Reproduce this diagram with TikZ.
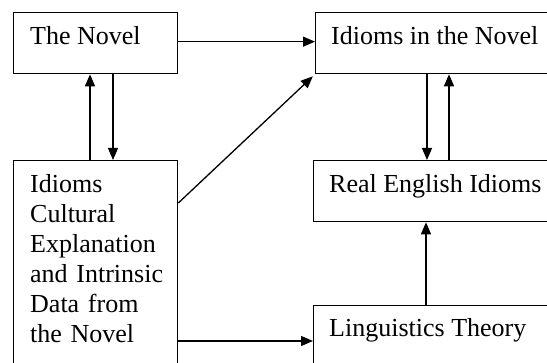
\documentclass[tikz,border=0pt]{standalone}
\usepackage{fontspec}
\setmainfont{Liberation Serif}
\usetikzlibrary{arrows.meta}
\begin{document}
\begin{tikzpicture}[x=1pt,y=-1pt,
  box/.style={draw, line width=1.3pt, inner sep=0pt, anchor=north west},
  lbl/.style={anchor=base west, inner sep=0pt, font=\fontsize{26}{30}\selectfont},
  arr/.style={line width=1.3pt, -{Triangle[length=12pt,width=10pt]}}]
\useasboundingbox (0,0) rectangle (547,363);
\clip (0,0) rectangle (547,363);
% boxes
\node[box, minimum width=164pt, minimum height=61pt] (novel) at (13,12) {};
\node[box, minimum width=164pt, minimum height=250pt] (idc) at (13,160) {};
\node[box, minimum width=300pt, minimum height=61pt] (inn) at (315,12) {};
\node[box, minimum width=300pt, minimum height=61pt] (rei) at (313,160) {};
\node[box, minimum width=300pt, minimum height=100pt] (lt) at (313,305) {};
% texts
\node[lbl] (tnovel) at (30,45) {The Novel};
\node[lbl, text width=150pt, align=left] (tidc) at (30,193) {Idioms\\Cultural\\Explanation\\and Intrinsic\\Data from\\the Novel};
\node[lbl] (tinn) at (331,45) {Idioms in the Novel};
\node[lbl] (trei) at (329,193) {Real English Idioms};
\node[lbl] (tlt) at (329,337) {Linguistics Theory};
% connectors
\draw[arr] ([yshift=1.5pt]novel.east) coordinate (a1) -- (a1 -| inn.west);
\draw[arr] ([xshift=77pt]idc.north west) coordinate (a2) -- (a2 |- novel.south);
\draw[arr] ([xshift=100pt]novel.south west) coordinate (a3) -- (a3 |- idc.north);
\draw[arr, shorten >=3pt] ([yshift=-43pt]idc.north east) -- (inn.south west);
\draw[arr] ([xshift=112pt]inn.south west) coordinate (a4) -- (a4 |- rei.north);
\draw[arr] ([xshift=136pt]rei.north west) coordinate (a5) -- (a5 |- inn.south);
\draw[arr] ([xshift=113pt]lt.north west) coordinate (a6) -- (a6 |- rei.south);
\draw[arr] ([yshift=-181pt]idc.north east) coordinate (a7) -- (a7 -| lt.west);
\end{tikzpicture}
\end{document}
